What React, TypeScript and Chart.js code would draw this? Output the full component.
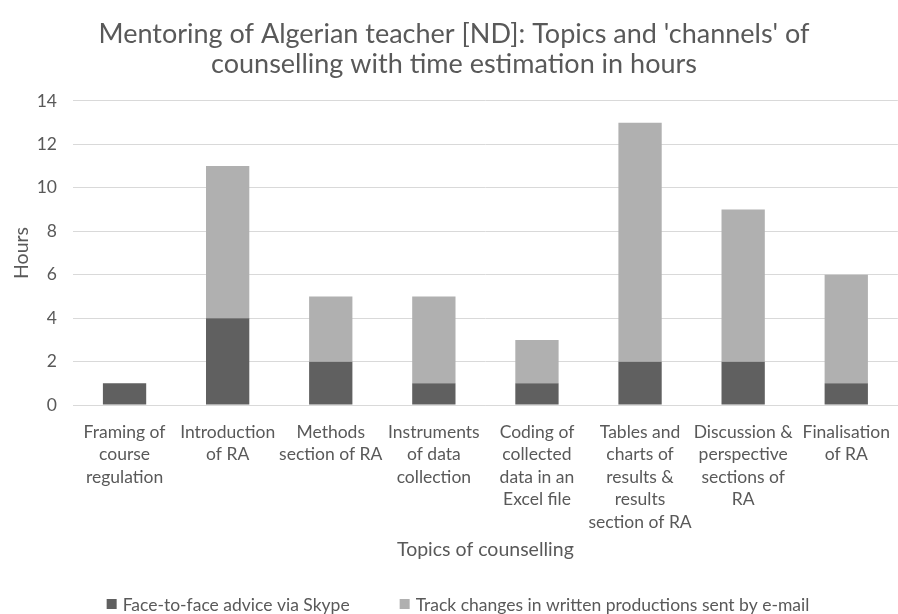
import React, { useEffect, useRef } from "react";
import { Chart, registerables } from "chart.js";

Chart.register(...registerables);

const categories: string[][] = [
  ["Framing of", "course", "regulation"],
  ["Introduction", "of RA"],
  ["Methods", "section of RA"],
  ["Instruments", "of data", "collection"],
  ["Coding of", "collected", "data in an", "Excel file"],
  ["Tables and", "charts of", "results &", "results", "section of RA"],
  ["Discussion &", "perspective", "sections of", "RA"],
  ["Finalisation", "of RA"],
];

const skypeHours = [1, 4, 2, 1, 1, 2, 2, 1];
const emailHours = [0, 7, 3, 4, 2, 11, 7, 5];

const seriesNames = [
  "Face-to-face advice via Skype",
  "Track changes in written productions sent by e-mail",
];

const titleLines = [
  "Mentoring of Algerian teacher [ND]: Topics and 'channels' of",
  "counselling with time estimation in hours",
];

const FONT = "Lato, 'Open Sans', sans-serif";
const TEXT = "#595959";

const bottomLegend = {
  id: "bottomLegend",
  afterDraw(chart: any) {
    const ctx = chart.ctx as CanvasRenderingContext2D;
    const sets = chart.data.datasets;
    ctx.save();
    ctx.font = `17.5px ${FONT}`;
    ctx.textBaseline = "middle";
    ctx.textAlign = "left";
    const box = 10;
    const gap = 6;
    const itemGap = 50;
    const widths = sets.map((d: any) => ctx.measureText(d.label).width);
    const total =
      widths.reduce((a: number, w: number) => a + w + box + gap, 0) +
      itemGap * (sets.length - 1);
    let x = chart.width / 2 + 9 - total / 2;
    const y = 604;
    sets.forEach((d: any, i: number) => {
      ctx.fillStyle = d.backgroundColor;
      ctx.fillRect(x, y - box / 2, box, box);
      ctx.fillStyle = TEXT;
      ctx.fillText(d.label, x + box + gap, y + 1);
      x += box + gap + widths[i] + itemGap;
    });
    ctx.restore();
  },
};

export default function App() {
  const ref = useRef<HTMLCanvasElement | null>(null);

  useEffect(() => {
    if (!ref.current) return;
    const chart = new Chart(ref.current, {
      type: "bar",
      data: {
        labels: categories,
        datasets: [
          {
            label: seriesNames[0],
            data: skypeHours,
            backgroundColor: "#606060",
            barPercentage: 0.42,
            categoryPercentage: 1,
          },
          {
            label: seriesNames[1],
            data: emailHours,
            backgroundColor: "#b0b0b0",
            barPercentage: 0.42,
            categoryPercentage: 1,
          },
        ],
      },
      plugins: [bottomLegend],
      options: {
        animation: false,
        responsive: true,
        maintainAspectRatio: false,
        layout: { padding: { left: 10, right: 0, top: 4, bottom: 53 } },
        plugins: {
          title: {
            display: true,
            text: titleLines,
            color: TEXT,
            font: { family: FONT, size: 27, weight: "normal", lineHeight: 1.11 },
            padding: { top: 15, bottom: 22 },
          },
          legend: { display: false },
          tooltip: { enabled: false },
        },
        scales: {
          x: {
            stacked: true,
            grid: { display: false },
            border: { color: "#d9d9d9" },
            ticks: {
              color: TEXT,
              font: { family: FONT, size: 17.5, lineHeight: 1.286 },
              maxRotation: 0,
              autoSkip: false,
              padding: 8,
            },
            title: {
              display: true,
              text: "Topics of counselling",
              color: TEXT,
              font: { family: FONT, size: 19.5 },
              padding: { top: -4, bottom: 0 },
            },
          },
          y: {
            stacked: true,
            min: 0,
            max: 14,
            afterFit: (scale: any) => {
              scale.width = 63;
            },
            ticks: {
              stepSize: 2,
              color: TEXT,
              font: { family: FONT, size: 17.5 },
              padding: 16,
            },
            grid: { color: "#d9d9d9", drawTicks: false },
            border: { display: false },
            title: {
              display: true,
              text: "Hours",
              color: TEXT,
              font: { family: FONT, size: 19.5 },
              padding: { top: 0, bottom: 4 },
            },
          },
        },
      },
    });
    return () => chart.destroy();
  }, []);

  return (
    <div
      style={{
        position: "fixed",
        left: 0,
        top: 0,
        width: 898,
        height: 614,
        background: "#ffffff",
      }}
    >
      <canvas ref={ref} />
    </div>
  );
}
